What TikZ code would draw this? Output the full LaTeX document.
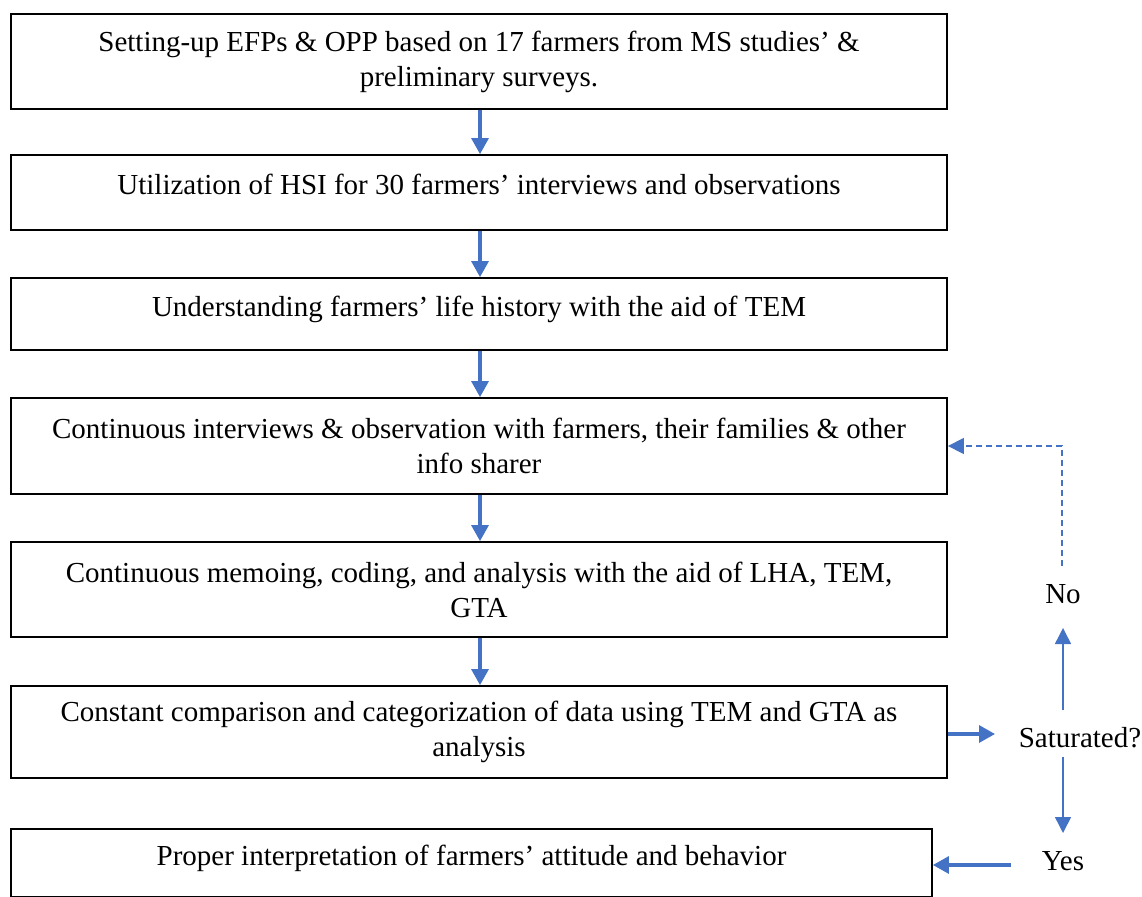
\documentclass[tikz,border=0pt]{standalone}
\usepackage{fontspec}
\setmainfont{Liberation Serif}
\usetikzlibrary{arrows.meta}
\definecolor{flowblue}{HTML}{4472C4}
\begin{document}
\begin{tikzpicture}[x=1pt,y=-1pt,
  stepbox/.style={draw=black,line width=1.8pt,inner sep=0pt,align=center,
    font=\fontsize{29}{35}\selectfont},
  oneline/.style={text depth=16pt},
  lbl/.style={inner sep=0pt,font=\fontsize{29}{35}\selectfont},
  thickarrow/.style={draw=flowblue,line width=3.2pt,
    -{Triangle[length=16pt,width=17pt]}},
  thinarrow/.style={draw=flowblue,line width=1.5pt,
    -{Triangle[length=16pt,width=16pt]}},
  dasharrow/.style={draw=flowblue,line width=1.5pt,dash pattern=on 6pt off 4pt,
    -{Triangle[length=16pt,width=16pt]}}]
\useasboundingbox (0,0) rectangle (1142,896);

% process boxes
\node[stepbox,minimum width=936pt,minimum height=95pt] (b1) at (479,61.5)
  {Setting-up EFPs \& OPP based on 17 farmers from MS studies’ \&\\preliminary surveys.};
\node[stepbox,oneline,minimum width=936pt,minimum height=75pt] (b2) at (479,192.5)
  {Utilization of HSI for 30 farmers’ interviews and observations};
\node[stepbox,oneline,minimum width=936pt,minimum height=72pt] (b3) at (479,314)
  {Understanding farmers’ life history with the aid of TEM};
\node[stepbox,minimum width=936pt,minimum height=96pt] (b4) at (479,446)
  {Continuous interviews \& observation with farmers, their families \& other\\info sharer};
\node[stepbox,minimum width=936pt,minimum height=95pt] (b5) at (479,589.5)
  {Continuous memoing, coding, and analysis with the aid of LHA, TEM,\\GTA};
\node[stepbox,minimum width=936pt,minimum height=92pt] (b6) at (479,732)
  {Constant comparison and categorization of data using TEM and GTA as\\analysis};
\node[stepbox,oneline,minimum width=921pt,minimum height=68pt] (b7) at (471.5,863)
  {Proper interpretation of farmers’ attitude and behavior};

% decision labels
\node[lbl] (sat) at (1080,738) {Saturated?};
\node[lbl] (no) at (1063,594) {No};
\node[lbl] (yes) at (1063,861) {Yes};

% main flow
\draw[thickarrow] (b1.south -| 480,0) -- (b2.north -| 480,0);
\draw[thickarrow] (b2.south -| 480,0) -- (b3.north -| 480,0);
\draw[thickarrow] (b3.south -| 480,0) -- (b4.north -| 480,0);
\draw[thickarrow] (b4.south -| 480,0) -- (b5.north -| 480,0);
\draw[thickarrow] (b5.south -| 480,0) -- (b6.north -| 480,0);

% saturation check
\coordinate (satin) at (995,734);
\draw[thickarrow] (b6.east |- satin) -- (satin);
\coordinate (uptop) at (1063,628);
\coordinate (upbot) at (1063,710);
\draw[thinarrow] (upbot) -- (uptop);
\coordinate (dntop) at (1063,757);
\coordinate (dnbot) at (1063,833);
\draw[thinarrow] (dntop) -- (dnbot);
\coordinate (yesout) at (1011,865);
\draw[thickarrow] (yesout) -- (b7.east |- yesout);

% loop back when not saturated
\coordinate (nostart) at (1062,566);
\coordinate (nocorner) at (1062,446);
\draw[dasharrow] (nostart) -- (nocorner) -- (b4.east |- nocorner);
\end{tikzpicture}
\end{document}
